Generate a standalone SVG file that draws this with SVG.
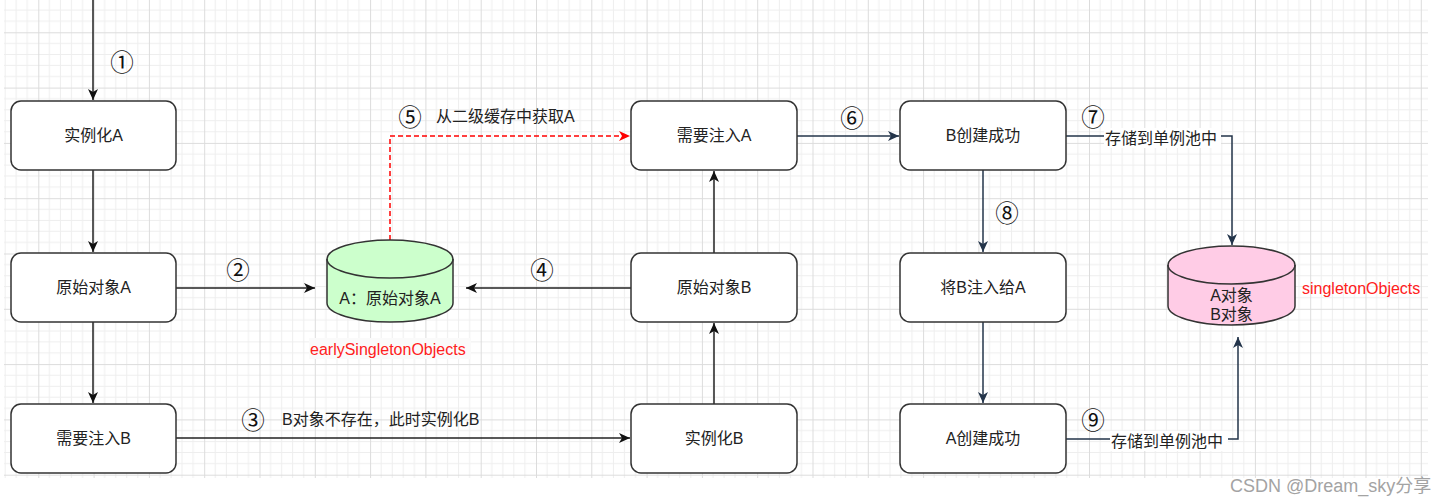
<svg xmlns="http://www.w3.org/2000/svg" width="1452" height="504" viewBox="0 0 1452 504">
<defs>
<style>
.box{fill:#fff;stroke:#333;stroke-width:1.5}
.lbl{font-family:"Liberation Sans","Noto Sans CJK SC",sans-serif;font-size:16px;fill:#222;dominant-baseline:central;text-anchor:middle}
.num{font-family:"Noto Sans CJK SC","DejaVu Sans",sans-serif;font-size:23.5px;fill:#111;dominant-baseline:central;text-anchor:middle}
.txt{font-family:"Liberation Sans","Noto Sans CJK SC",sans-serif;font-size:16px;fill:#222;dominant-baseline:central}
.red{fill:#ff2020}
.ck{fill:none;stroke:#222;stroke-width:1.5}
.cn{fill:none;stroke:#23344a;stroke-width:1.5}
</style>
<pattern id="grid" patternUnits="userSpaceOnUse" x="38.3" y="32.3" width="55.3" height="55.3">
<path d="M0,11.06H55.3M0,22.12H55.3M0,33.18H55.3M0,44.24H55.3M11.06,0V55.3M22.12,0V55.3M33.18,0V55.3M44.24,0V55.3" stroke="#eeeeee" stroke-width="1" fill="none"/>
<path d="M0,0.5H55.3M0.5,0V55.3" stroke="#dcdcdc" stroke-width="1" fill="none"/>
</pattern>
<marker id="ak" markerUnits="userSpaceOnUse" markerWidth="12" markerHeight="11" refX="11" refY="5.5" orient="auto"><path d="M0,0.5 L11,5.5 L0,10.5 L3,5.5 Z" fill="#111"/></marker>
<marker id="an" markerUnits="userSpaceOnUse" markerWidth="12" markerHeight="11" refX="11" refY="5.5" orient="auto"><path d="M0,0.5 L11,5.5 L0,10.5 L3,5.5 Z" fill="#23344a"/></marker>
<marker id="ar" markerUnits="userSpaceOnUse" markerWidth="12" markerHeight="11" refX="11" refY="5.5" orient="auto"><path d="M0,0.5 L11,5.5 L0,10.5 L3,5.5 Z" fill="#ff0000"/></marker>
</defs>
<rect x="0" y="0" width="1452" height="504" fill="#fff"/>
<rect x="4" y="0" width="1424" height="478" fill="url(#grid)"/>

<g id="connectors">
<path class="ck" d="M93,0V100" marker-end="url(#ak)"/>
<path class="ck" d="M93,170V252" marker-end="url(#ak)"/>
<path class="ck" d="M93,322V403" marker-end="url(#ak)"/>
<path class="ck" d="M176,288H315" marker-end="url(#ak)"/>
<path class="ck" d="M631,288H466" marker-end="url(#ak)"/>
<path class="ck" d="M176,438H630" marker-end="url(#ak)"/>
<path class="ck" d="M714,404V323" marker-end="url(#ak)"/>
<path class="ck" d="M714,253V171" marker-end="url(#ak)"/>
<path d="M390,240V136H630" fill="none" stroke="#ff0000" stroke-width="1.5" stroke-dasharray="5 3" marker-end="url(#ar)"/>
<path class="cn" d="M797,136H899" marker-end="url(#an)"/>
<path class="cn" d="M1066,136H1232V245" marker-end="url(#an)"/>
<path class="cn" d="M983,170V252" marker-end="url(#an)"/>
<path class="cn" d="M983,322V403" marker-end="url(#an)"/>
<path class="cn" d="M1066,439H1238V337" marker-end="url(#an)"/>
<text class="num" x="122" y="61">①</text>
<text class="num" x="238" y="269">②</text>
<text class="num" x="253" y="419">③</text>
<text class="txt" x="282" y="419">B对象不存在，此时实例化B</text>
<text class="num" x="542" y="269">④</text>
<text class="num" x="410" y="116">⑤</text>
<text class="txt" x="436" y="116">从二级缓存中获取A</text>
<text class="num" x="852" y="117">⑥</text>
<text class="num" x="1093" y="116">⑦</text>
<rect x="1104" y="128" width="117" height="20" fill="#fff"/>
<text class="txt" x="1105" y="138">存储到单例池中</text>
<text class="num" x="1007" y="212">⑧</text>
<text class="num" x="1093" y="419">⑨</text>
<rect x="1110" y="431" width="118" height="20" fill="#fff"/>
<text class="txt" x="1111" y="441">存储到单例池中</text>
</g>

<g id="n-instA"><rect class="box" x="11" y="101" width="165" height="69" rx="10"/><text class="lbl" x="93.5" y="135.5">实例化A</text></g>
<g id="n-rawA"><rect class="box" x="11" y="253" width="165" height="69" rx="10"/><text class="lbl" x="93.5" y="287.5">原始对象A</text></g>
<g id="n-injB"><rect class="box" x="11" y="404" width="165" height="69" rx="10"/><text class="lbl" x="93.5" y="438.5">需要注入B</text></g>
<g id="n-injA"><rect class="box" x="631" y="101" width="166" height="69" rx="10"/><text class="lbl" x="714" y="135.5">需要注入A</text></g>
<g id="n-rawB"><rect class="box" x="631" y="253" width="166" height="69" rx="10"/><text class="lbl" x="714" y="287.5">原始对象B</text></g>
<g id="n-instB"><rect class="box" x="631" y="404" width="166" height="69" rx="10"/><text class="lbl" x="714" y="438.5">实例化B</text></g>
<g id="n-Bok"><rect class="box" x="900" y="101" width="166" height="69" rx="10"/><text class="lbl" x="983" y="135.5">B创建成功</text></g>
<g id="n-BtoA"><rect class="box" x="900" y="253" width="166" height="69" rx="10"/><text class="lbl" x="983" y="287.5">将B注入给A</text></g>
<g id="n-Aok"><rect class="box" x="900" y="404" width="166" height="69" rx="10"/><text class="lbl" x="983" y="438.5">A创建成功</text></g>

<g id="n-early">
<path d="M327,259 A63,19 0 0 1 453,259 V303 A63,19 0 0 1 327,303 Z" fill="#ccffcc" stroke="#333" stroke-width="1.5"/>
<path d="M327,259 A63,19 0 0 0 453,259" fill="none" stroke="#333" stroke-width="1.5"/>
<text class="lbl" x="390" y="298">A：原始对象A</text>
<rect x="309" y="338" width="162" height="21" fill="#fafafa"/>
<text class="txt red" x="310" y="349">earlySingletonObjects</text>
</g>

<g id="n-singleton">
<path d="M1168,265 A63.5,19 0 0 1 1295,265 V306 A63.5,19 0 0 1 1168,306 Z" fill="#ffcce6" stroke="#333" stroke-width="1.5"/>
<path d="M1168,265 A63.5,19 0 0 0 1295,265" fill="none" stroke="#333" stroke-width="1.5"/>
<text class="lbl" x="1231.5" y="295">A对象</text>
<text class="lbl" x="1231.5" y="314">B对象</text>
<text class="txt red" x="1302" y="288">singletonObjects</text>
</g>

<text x="1230" y="486" font-family="Liberation Sans,Noto Sans CJK SC,sans-serif" font-size="18" fill="#a3a3a3" dominant-baseline="central">CSDN @Dream_sky分享</text>
</svg>
